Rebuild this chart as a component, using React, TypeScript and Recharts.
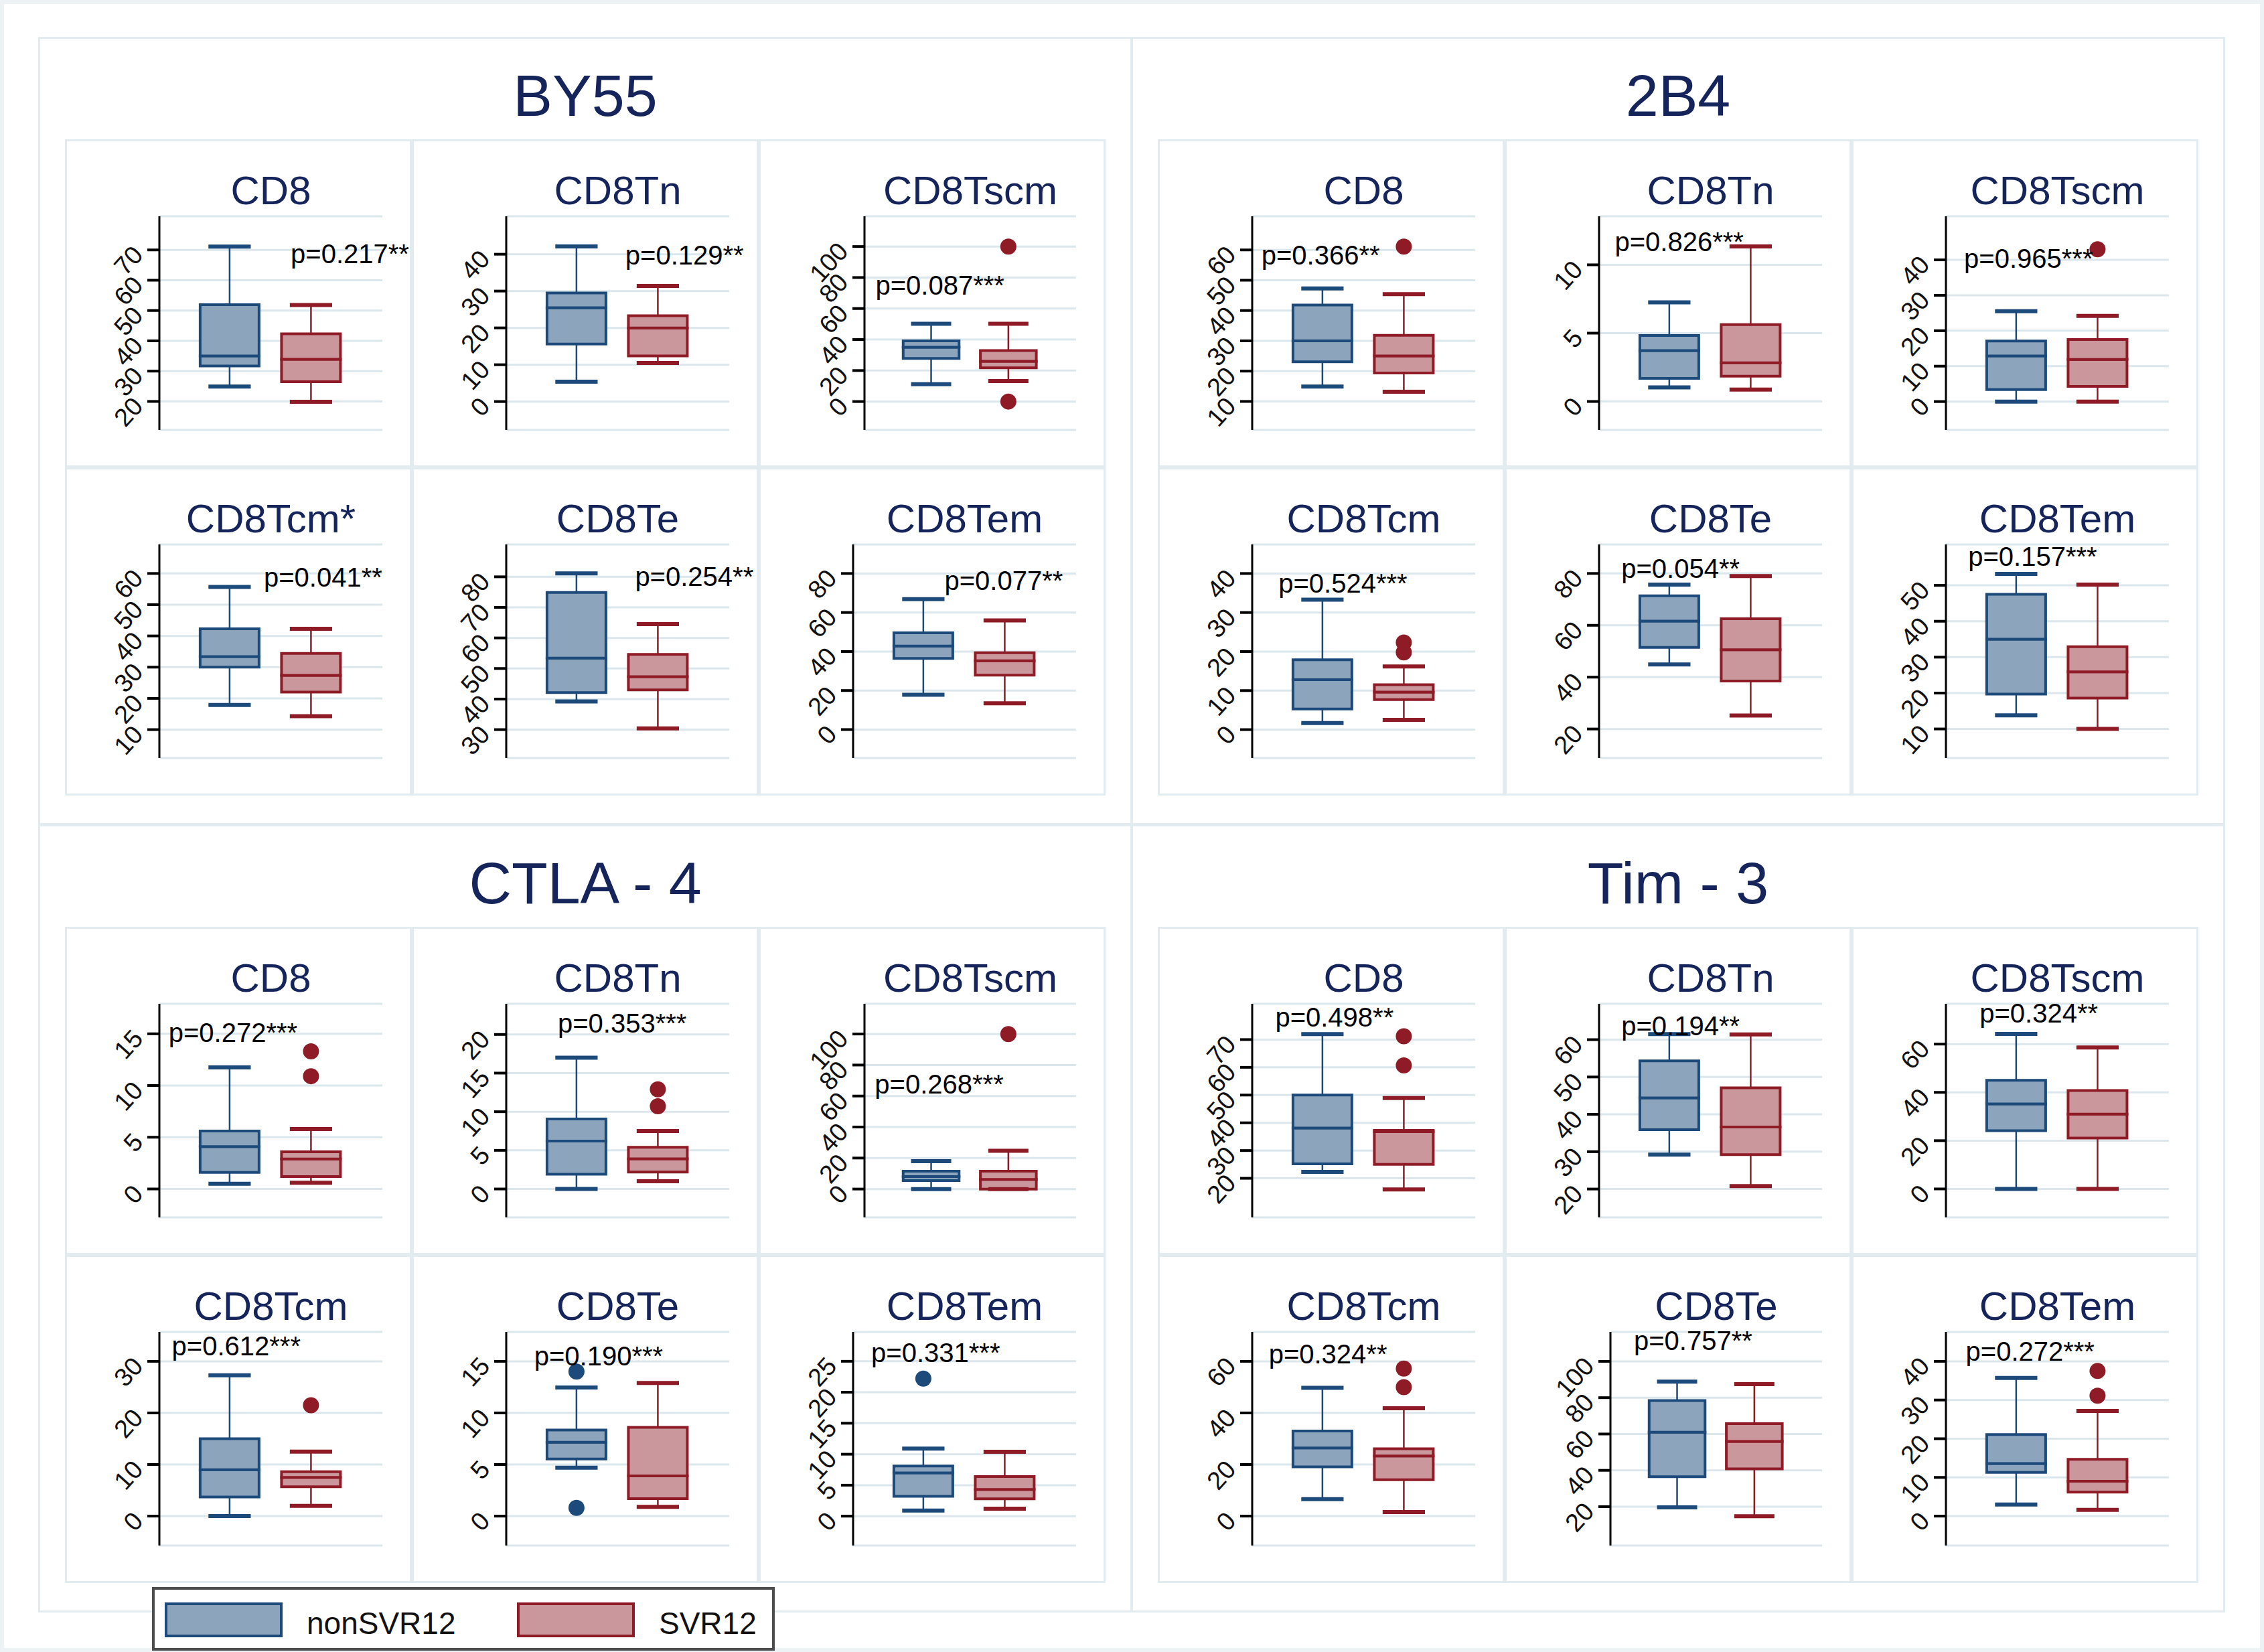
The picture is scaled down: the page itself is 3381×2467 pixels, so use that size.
import React from "react";
import {
  ComposedChart,
  XAxis,
  YAxis,
  CartesianGrid,
  ReferenceArea,
  ReferenceLine,
  Scatter,
} from "recharts";

// ---------- data ----------
const GROUPS = ["BY55", "2B4", "CTLA - 4", "Tim - 3"];
const SERIES = ["nonSVR12", "SVR12"];

const CELLS_BY55 = ["CD8", "CD8Tn", "CD8Tscm", "CD8Tcm*", "CD8Te", "CD8Tem"];
const CELLS_2B4 = ["CD8", "CD8Tn", "CD8Tscm", "CD8Tcm", "CD8Te", "CD8Tem"];
const CELLS_CTLA4 = ["CD8", "CD8Tn", "CD8Tscm", "CD8Tcm", "CD8Te", "CD8Tem"];
const CELLS_TIM3 = ["CD8", "CD8Tn", "CD8Tscm", "CD8Tcm", "CD8Te", "CD8Tem"];

// box stats: [min, q1, median, q3, max]
const BY55_NON = [
  [24.9, 31.7, 35.0, 51.9, 71.1],
  [5.4, 15.6, 25.5, 29.5, 42.1],
  [11.2, 27.8, 35.0, 39.1, 50.2],
  [17.9, 30.0, 33.4, 42.3, 55.7],
  [39.2, 42.1, 53.4, 74.9, 81.1],
  [17.8, 36.5, 42.8, 49.6, 66.8],
];
const BY55_SVR = [
  [19.9, 26.5, 33.9, 42.3, 51.8],
  [10.5, 12.4, 20.0, 23.3, 31.4],
  [13.2, 21.8, 26.0, 32.9, 50.2],
  [14.3, 22.0, 27.4, 34.4, 42.3],
  [30.4, 43.0, 47.3, 54.6, 64.5],
  [13.5, 27.9, 35.3, 39.4, 55.9],
];
const BY55_NON_OUT = [[], [], [], [], [], []];
const BY55_SVR_OUT = [[], [], [100, 0], [], [], []];
const BY55_P = ["p=0.217**", "p=0.129**", "p=0.087***", "p=0.041**", "p=0.254**", "p=0.077**"];
const BY55_P_POS = [[1.75, 65.6], [1.6, 37.3], [0.28, 69], [1.42, 55.7], [1.72, 77.1], [1.26, 71.4]];
const BY55_TICKS = [
  [20, 30, 40, 50, 60, 70],
  [0, 10, 20, 30, 40],
  [0, 20, 40, 60, 80, 100],
  [10, 20, 30, 40, 50, 60],
  [30, 40, 50, 60, 70, 80],
  [0, 20, 40, 60, 80],
];
const BY55_DOMAIN = [[10.6, 81.1], [-7.7, 50.3], [-18.3, 119.5], [0.9, 69.3], [20.7, 90.6], [-14.6, 94.9]];

const B2B4_NON = [
  [14.9, 23.1, 30.0, 41.8, 47.3],
  [1.03, 1.69, 3.73, 4.83, 7.25],
  [0, 3.4, 12.9, 17.1, 25.5],
  [1.7, 5.3, 12.8, 17.9, 33.3],
  [44.9, 51.5, 61.6, 71.4, 75.7],
  [13.8, 19.7, 35.0, 47.5, 53.2],
];
const B2B4_SVR = [
  [13.2, 19.4, 25.0, 31.8, 45.4],
  [0.87, 1.85, 2.83, 5.62, 11.34],
  [0, 4.3, 11.9, 17.5, 24.2],
  [2.5, 7.7, 9.6, 11.5, 16.2],
  [25.2, 38.5, 50.6, 62.5, 79.0],
  [10.0, 18.6, 25.9, 32.9, 50.2],
];
const B2B4_NON_OUT = [[], [], [], [], [], []];
const B2B4_SVR_OUT = [[61.1], [], [43.0], [22.3, 19.8], [], []];
const B2B4_P = ["p=0.366**", "p=0.826***", "p=0.965***", "p=0.524***", "p=0.054**", "p=0.157***"];
const B2B4_P_POS = [[0.25, 55.2], [0.33, 11.0], [0.36, 37.8], [0.46, 35.1], [0.41, 78.3], [0.41, 55.5]];
const B2B4_TICKS = [
  [10, 20, 30, 40, 50, 60],
  [0, 5, 10],
  [0, 10, 20, 30, 40],
  [0, 10, 20, 30, 40],
  [20, 40, 60, 80],
  [10, 20, 30, 40, 50],
];
const B2B4_DOMAIN = [[0.6, 71.1], [-2.08, 13.55], [-8.0, 52.3], [-7.28, 47.45], [8.8, 91.2], [1.9, 61.4]];

const CTLA4_NON = [
  [0.5, 1.6, 4.1, 5.6, 11.75],
  [0, 1.9, 6.2, 9.06, 17.0],
  [0, 5.5, 8.1, 11.5, 18.0],
  [0, 3.7, 9.0, 15.0, 27.3],
  [4.7, 5.54, 7.16, 8.34, 12.46],
  [0.9, 3.2, 7.0, 8.1, 10.9],
];
const CTLA4_SVR = [
  [0.6, 1.2, 2.9, 3.6, 5.8],
  [1.0, 2.2, 3.9, 5.4, 7.5],
  [0, 0, 6.2, 11.5, 24.7],
  [2.0, 5.7, 7.5, 8.6, 12.5],
  [0.9, 1.7, 3.9, 8.6, 12.9],
  [1.2, 2.8, 4.3, 6.4, 10.4],
];
const CTLA4_NON_OUT = [[], [], [], [], [14.0, 0.8], [22.2]];
const CTLA4_SVR_OUT = [[13.3, 10.9], [12.9, 10.7], [100], [21.5], [], []];
const CTLA4_P = ["p=0.272***", "p=0.353***", "p=0.268***", "p=0.612***", "p=0.190***", "p=0.331***"];
const CTLA4_P_POS = [[0.25, 14.2], [0.77, 20.2], [0.27, 61.8], [0.29, 31.2], [0.48, 14.6], [0.36, 24.9]];
const CTLA4_TICKS = [
  [0, 5, 10, 15],
  [0, 5, 10, 15, 20],
  [0, 20, 40, 60, 80, 100],
  [0, 10, 20, 30],
  [0, 5, 10, 15],
  [0, 5, 10, 15, 20, 25],
];
const CTLA4_DOMAIN = [[-2.75, 17.9], [-3.68, 23.97], [-18.3, 119.5], [-5.7, 35.7], [-2.85, 17.85], [-4.74, 29.74]];

const TIM3_NON = [
  [22.3, 25.2, 38.1, 50.0, 72.0],
  [29.2, 35.9, 44.4, 54.3, 61.5],
  [0, 24.1, 35.2, 45.0, 64.2],
  [6.6, 19.1, 26.4, 33.0, 49.7],
  [19.6, 36.5, 61.0, 78.4, 88.8],
  [3.0, 11.3, 13.6, 21.1, 35.7],
];
const TIM3_SVR = [
  [16.0, 25.0, 36.8, 37.3, 48.9],
  [20.8, 29.2, 36.6, 47.1, 61.4],
  [0, 21.1, 31.0, 40.8, 58.6],
  [1.6, 14.1, 23.3, 26.1, 41.8],
  [14.7, 40.8, 55.9, 65.7, 87.4],
  [1.6, 6.2, 9.0, 14.7, 27.2],
];
const TIM3_NON_OUT = [[], [], [], [], [], []];
const TIM3_SVR_OUT = [[71.2, 60.7], [], [], [57.2, 50.0], [], [37.5, 31.1]];
const TIM3_P = ["p=0.498**", "p=0.194**", "p=0.324**", "p=0.324**", "p=0.757**", "p=0.272***"];
const TIM3_P_POS = [[0.42, 74.8], [0.41, 61.2], [0.55, 68.8], [0.34, 59.3], [0.44, 106.4], [0.38, 40.1]];
const TIM3_TICKS = [
  [20, 30, 40, 50, 60, 70],
  [20, 30, 40, 50, 60],
  [0, 20, 40, 60],
  [0, 20, 40, 60],
  [20, 40, 60, 80, 100],
  [0, 10, 20, 30, 40],
];
const TIM3_DOMAIN = [[5.9, 82.9], [12.4, 69.6], [-11.8, 76.7], [-11.4, 71.4], [-1.4, 116.2], [-7.6, 47.6]];

// ---------- styling ----------
const FONT = "'Liberation Sans', Arial, Helvetica, sans-serif";
const NAVY = "#15245a";
const BORDER = "#e2ebef";
const COLORS = [
  { fill: "#8da4bd", line: "#1c4a7a" },
  { fill: "#c9979c", line: "#8e1b25" },
];
const X_DOMAIN: [number, number] = [0.137, 2.877];
const BOX_HALF = 0.362;
const CAP_HALF = 0.26;

const PANEL_W = 518;
const PANEL_H = 490;
const PLOT_TOP = 115;
const PLOT_BOTTOM = 56;
const PLOT_RIGHT = 44;

const GROUP_TABLE = [
  { title: GROUPS[0], cells: CELLS_BY55, non: BY55_NON, svr: BY55_SVR, nonOut: BY55_NON_OUT, svrOut: BY55_SVR_OUT, p: BY55_P, pPos: BY55_P_POS, ticks: BY55_TICKS, domain: BY55_DOMAIN },
  { title: GROUPS[1], cells: CELLS_2B4, non: B2B4_NON, svr: B2B4_SVR, nonOut: B2B4_NON_OUT, svrOut: B2B4_SVR_OUT, p: B2B4_P, pPos: B2B4_P_POS, ticks: B2B4_TICKS, domain: B2B4_DOMAIN },
  { title: GROUPS[2], cells: CELLS_CTLA4, non: CTLA4_NON, svr: CTLA4_SVR, nonOut: CTLA4_NON_OUT, svrOut: CTLA4_SVR_OUT, p: CTLA4_P, pPos: CTLA4_P_POS, ticks: CTLA4_TICKS, domain: CTLA4_DOMAIN },
  { title: GROUPS[3], cells: CELLS_TIM3, non: TIM3_NON, svr: TIM3_SVR, nonOut: TIM3_NON_OUT, svrOut: TIM3_SVR_OUT, p: TIM3_P, pPos: TIM3_P_POS, ticks: TIM3_TICKS, domain: TIM3_DOMAIN },
];

const RotTick = (props: any) => {
  const { x, y, payload } = props;
  return (
    <text
      x={x}
      y={y}
      textAnchor="end"
      dominantBaseline="central"
      transform={`rotate(-48 ${x} ${y})`}
      fontSize={38}
      fontFamily={FONT}
      fill="#111"
    >
      {payload.value}
    </text>
  );
};

function boxElements(pos: number, s: number[], c: { fill: string; line: string }, key: string) {
  const [mn, q1, md, q3, mx] = s;
  return [
    <ReferenceLine key={key + "wl"} segment={[{ x: pos, y: mn }, { x: pos, y: q1 }]} stroke={c.line} strokeWidth={2.5} ifOverflow="visible" />,
    <ReferenceLine key={key + "wh"} segment={[{ x: pos, y: q3 }, { x: pos, y: mx }]} stroke={c.line} strokeWidth={2.5} ifOverflow="visible" />,
    <ReferenceLine key={key + "cl"} segment={[{ x: pos - CAP_HALF, y: mn }, { x: pos + CAP_HALF, y: mn }]} stroke={c.line} strokeWidth={6} ifOverflow="visible" />,
    <ReferenceLine key={key + "ch"} segment={[{ x: pos - CAP_HALF, y: mx }, { x: pos + CAP_HALF, y: mx }]} stroke={c.line} strokeWidth={6} ifOverflow="visible" />,
    <ReferenceArea key={key + "b1"} x1={pos - BOX_HALF} x2={pos + BOX_HALF} y1={q1} y2={md} fill={c.fill} fillOpacity={1} stroke={c.line} strokeWidth={4} ifOverflow="visible" />,
    <ReferenceArea key={key + "b2"} x1={pos - BOX_HALF} x2={pos + BOX_HALF} y1={md} y2={q3} fill={c.fill} fillOpacity={1} stroke={c.line} strokeWidth={4} ifOverflow="visible" />,
  ];
}

function Panel(props: any) {
  const { left, top, title, non, svr, nonOut, svrOut, p, pPos, ticks, domain } = props;
  const wide = ticks.some((t: number) => String(t).length >= 3);
  const yw = wide ? 158 : 141;
  const titleX = yw + (PANEL_W - PLOT_RIGHT - yw) / 2;
  const nonOutData = nonOut.map((v: number) => ({ x: 1, y: v }));
  const svrOutData = svrOut.map((v: number) => ({ x: 2, y: v }));
  const pData = [{ x: pPos[0], y: pPos[1] }];
  return (
    <div
      style={{
        position: "absolute",
        left,
        top,
        width: PANEL_W,
        height: PANEL_H,
        boxShadow: `inset 0 0 0 3px ${BORDER}`,
      }}
    >
      <svg width={PANEL_W} height={116} style={{ position: "absolute", left: 0, top: 0 }}>
        <text x={titleX} y={97} textAnchor="middle" fontSize={60} fontFamily={FONT} fill={NAVY}>
          {title}
        </text>
      </svg>
      <div style={{ position: "absolute", left: 0, top: 0 }}>
        <ComposedChart
          width={PANEL_W}
          height={PANEL_H}
          margin={{ top: PLOT_TOP, right: PLOT_RIGHT, bottom: PLOT_BOTTOM, left: 0 }}
        >
          <CartesianGrid horizontal vertical={false} stroke="#dbe7ec" strokeWidth={3} />
          <XAxis
            type="number"
            dataKey="x"
            domain={X_DOMAIN}
            height={0}
            tick={false}
            tickLine={false}
            axisLine={{ stroke: "#000", strokeWidth: 4 }}
          />
          <YAxis
            type="number"
            dataKey="y"
            domain={domain}
            ticks={ticks}
            interval={0}
            width={yw}
            tickSize={18}
            tickMargin={14}
            tickLine={{ stroke: "#000", strokeWidth: 4 }}
            axisLine={{ stroke: "#000", strokeWidth: 3 }}
            tick={<RotTick />}
          />
          {boxElements(1, non, COLORS[0], "n")}
          {boxElements(2, svr, COLORS[1], "s")}
          <Scatter
            name={SERIES[0]}
            data={nonOutData}
            dataKey="y"
            isAnimationActive={false}
            shape={(sp: any) => <circle cx={sp.cx} cy={sp.cy} r={12} fill={COLORS[0].line} />}
          />
          <Scatter
            name={SERIES[1]}
            data={svrOutData}
            dataKey="y"
            isAnimationActive={false}
            shape={(sp: any) => <circle cx={sp.cx} cy={sp.cy} r={12} fill={COLORS[1].line} />}
          />
          <Scatter
            name="p"
            data={pData}
            dataKey="y"
            isAnimationActive={false}
            shape={(sp: any) => (
              <text x={sp.cx} y={sp.cy} fontSize={40} fontFamily={FONT} fill="#000">
                {p}
              </text>
            )}
          />
        </ComposedChart>
      </div>
    </div>
  );
}

const Q_LEFT = [57, 1689];
const Q_TOP = [55, 1231];
const Q_W = 1634;
const Q_H = 1177;

function Quadrant({ g, qi }: any) {
  const qx = Q_LEFT[qi % 2];
  const qy = Q_TOP[Math.floor(qi / 2)];
  return (
    <div
      style={{
        position: "absolute",
        left: qx,
        top: qy,
        width: Q_W,
        height: Q_H,
        boxShadow: `inset 0 0 0 3px ${BORDER}`,
      }}
    >
      <svg width={Q_W} height={148} style={{ position: "absolute", left: 0, top: 0 }}>
        <text x={Q_W / 2} y={118} textAnchor="middle" fontSize={88} fontFamily={FONT} fill={NAVY}>
          {g.title}
        </text>
      </svg>
      {g.cells.map((cell: string, i: number) => (
        <Panel
          key={cell + i}
          left={40 + (i % 3) * PANEL_W}
          top={153 + Math.floor(i / 3) * PANEL_H}
          title={cell}
          non={g.non[i]}
          svr={g.svr[i]}
          nonOut={g.nonOut[i]}
          svrOut={g.svrOut[i]}
          p={g.p[i]}
          pPos={g.pPos[i]}
          ticks={g.ticks[i]}
          domain={g.domain[i]}
        />
      ))}
    </div>
  );
}

function Legend() {
  return (
    <svg width={932} height={95} style={{ position: "absolute", left: 227, top: 2370 }}>
      <rect x={2} y={2} width={926} height={91} fill="#fff" stroke="#4d4d4d" strokeWidth={4} />
      <rect x={21} y={25} width={172} height={48} fill={COLORS[0].fill} stroke={COLORS[0].line} strokeWidth={4} />
      <text x={231} y={70} fontSize={46} fontFamily={FONT} fill="#111">
        {SERIES[0]}
      </text>
      <rect x={547} y={25} width={172} height={48} fill={COLORS[1].fill} stroke={COLORS[1].line} strokeWidth={4} />
      <text x={757} y={70} fontSize={46} fontFamily={FONT} fill="#111">
        {SERIES[1]}
      </text>
    </svg>
  );
}

export default function App() {
  return (
    <div
      style={{
        position: "absolute",
        left: 0,
        top: 0,
        width: 3381,
        height: 2467,
        overflow: "hidden",
        background: "#fff",
        boxShadow: "inset 0 0 0 6px #edf3f5",
        fontFamily: FONT,
      }}
    >
      {GROUP_TABLE.map((g, qi) => (
        <Quadrant key={g.title} g={g} qi={qi} />
      ))}
      <Legend />
    </div>
  );
}
